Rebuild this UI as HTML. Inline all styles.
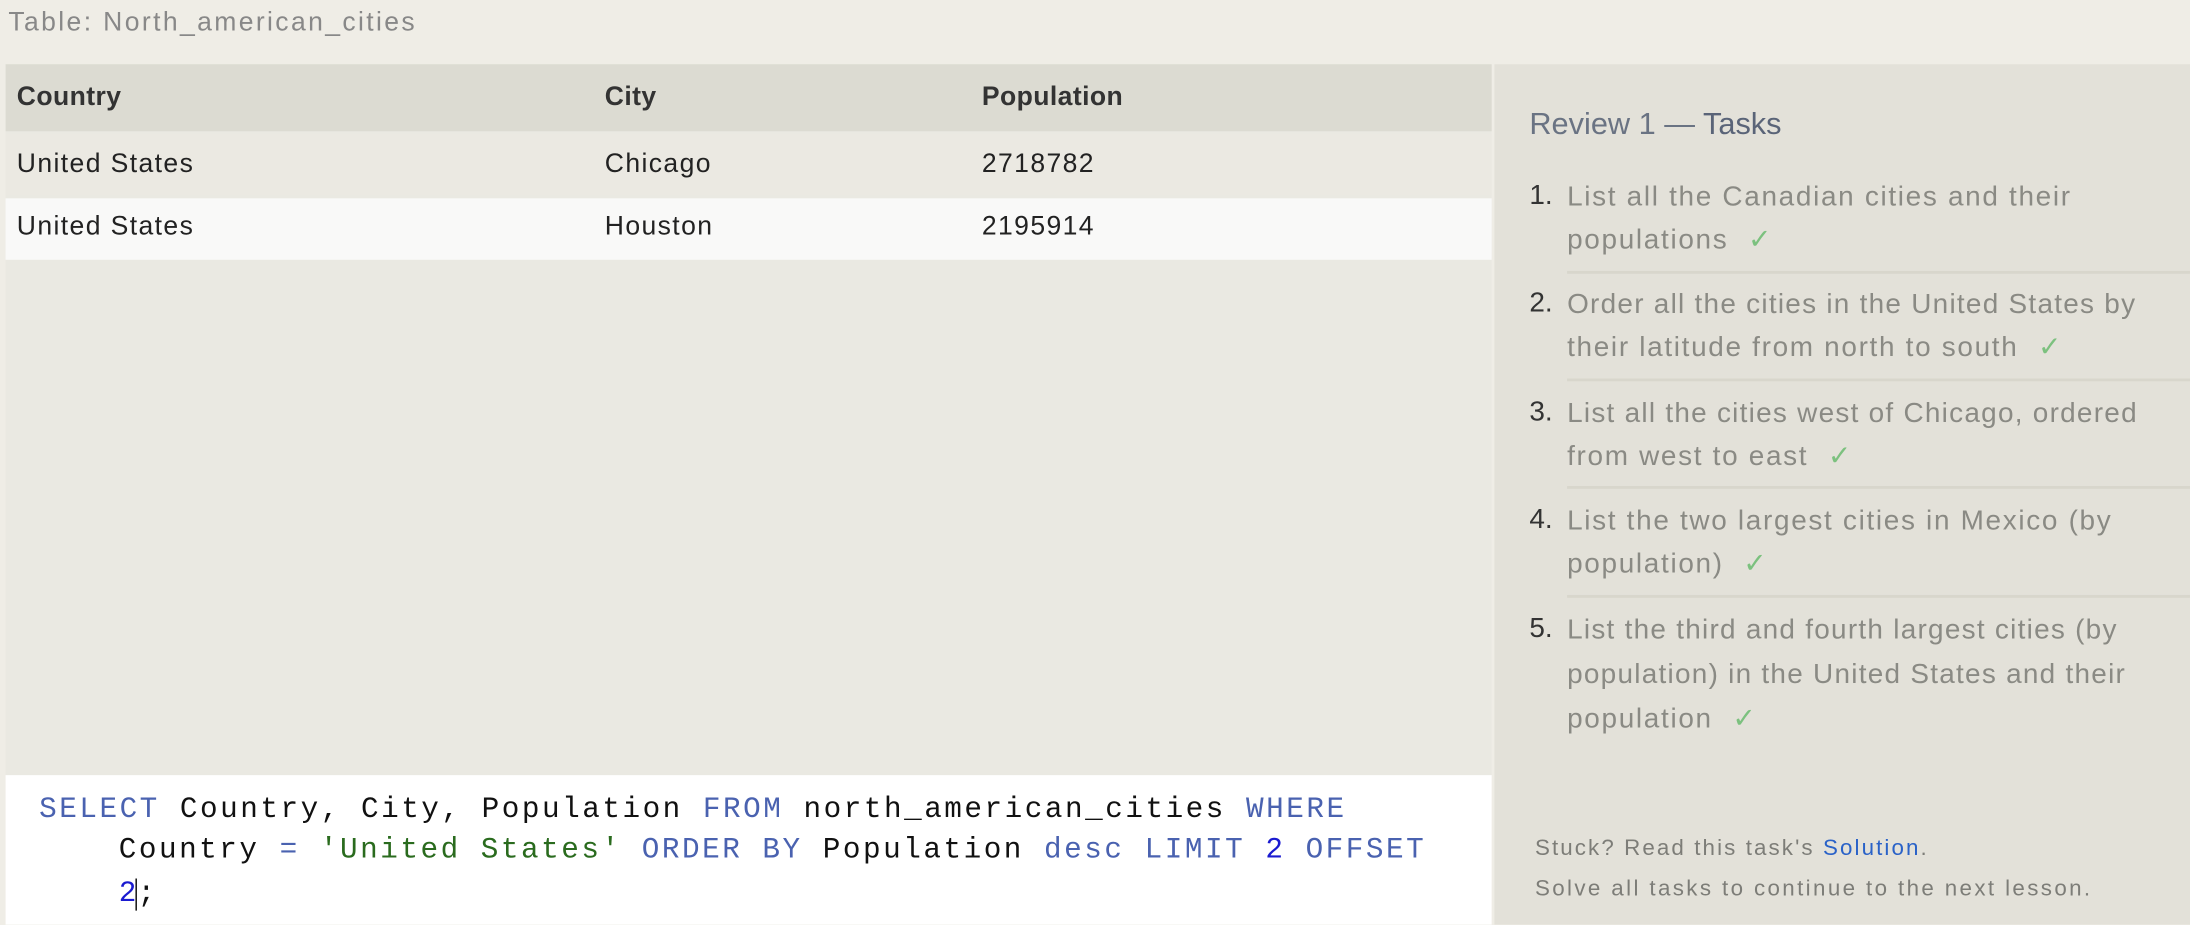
<!DOCTYPE html>
<html><head><meta charset="utf-8"><style>
html,body{margin:0;padding:0;width:2190px;height:924px;overflow:hidden;background:#efede6}
#w{position:absolute;left:0;top:0;width:1568px;height:662px;transform:scale(1.39668);transform-origin:0 0;font-family:"Liberation Sans",sans-serif}
.a{position:absolute;white-space:nowrap}
.t{font-size:20px;color:#8a8a84;line-height:24px;letter-spacing:1.2px}
.n{color:#333;font-size:20px}
.ck{color:#7cc17f;margin-left:14px}
.sep{position:absolute;left:1122px;width:446px;height:2px;background:#d8d6cc}
.code{font-family:"Liberation Mono",monospace;font-size:21px;letter-spacing:1.8px;color:#111;line-height:24px}
.kw{color:#4a62b0}.st{color:#2a6b1e}.nm{color:#1a1ad0}
.td{font-size:19px;color:#222;line-height:24px;letter-spacing:1px}
</style></head><body>
<div id="w">
<div class="a" style="left:6px;top:6px;font-size:19px;color:#888;letter-spacing:1.7px">Table: North_american_cities</div>
<div class="a" style="left:4px;top:46px;width:1064px;height:509px;background:#eae9e2">
 <div class="a" style="left:0;top:0;width:1064px;height:48px;background:#dcdbd2"></div>
 <div class="a td" style="left:8px;top:12px;font-weight:bold;color:#333;letter-spacing:0.3px">Country</div>
 <div class="a td" style="left:429px;top:12px;font-weight:bold;color:#333;letter-spacing:0.3px">City</div>
 <div class="a td" style="left:699px;top:12px;font-weight:bold;color:#333;letter-spacing:0.3px">Population</div>
 <div class="a" style="left:0;top:50px;width:1064px;height:44px;background:#ebe9e2"></div>
 <div class="a td" style="left:8px;top:60px">United States</div>
 <div class="a td" style="left:429px;top:60px">Chicago</div>
 <div class="a td" style="left:699px;top:60px">2718782</div>
 <div class="a" style="left:0;top:96px;width:1064px;height:44px;background:#f9f9f8"></div>
 <div class="a td" style="left:8px;top:105px">United States</div>
 <div class="a td" style="left:429px;top:105px">Houston</div>
 <div class="a td" style="left:699px;top:105px">2195914</div>
</div>
<div class="a" style="left:4px;top:555px;width:1064px;height:107px;background:#fff"></div>
<div class="a code" style="left:28px;top:569px"><span class="kw">SELECT</span> Country, City, Population <span class="kw">FROM</span> north_american_cities <span class="kw">WHERE</span></div>
<div class="a code" style="left:85px;top:598px">Country <span class="kw">=</span> <span class="st">'United States'</span> <span class="kw">ORDER BY</span> Population <span class="kw">desc LIMIT</span> <span class="nm">2</span> <span class="kw">OFFSET</span></div>
<div class="a code" style="left:85px;top:629px"><span class="nm">2</span><span style="border-left:1.5px solid #000;margin-left:-2px">;</span></div>
<div class="a" style="left:1070px;top:46px;width:498px;height:616px;background:#e3e1d9"></div>
<div class="a" style="left:1095px;top:76px;font-size:22px;color:#6a7383">Review 1 — <span style="color:#5a6478">Tasks</span></div>
<div class="a n" style="left:1095px;top:129px">1.</div>
<div class="a t" style="left:1122px;top:129px">List all the Canadian cities and their</div>
<div class="a t" style="left:1122px;top:160px">populations<span class="ck">✓</span></div>
<div class="sep" style="top:194px"></div>
<div class="a n" style="left:1095px;top:206px">2.</div>
<div class="a t" style="left:1122px;top:206px;letter-spacing:0.9px">Order all the cities in the United States by</div>
<div class="a t" style="left:1122px;top:237px">their latitude from north to south<span class="ck">✓</span></div>
<div class="sep" style="top:271px"></div>
<div class="a n" style="left:1095px;top:284px">3.</div>
<div class="a t" style="left:1122px;top:284px;letter-spacing:0.9px">List all the cities west of Chicago, ordered</div>
<div class="a t" style="left:1122px;top:315px">from west to east<span class="ck">✓</span></div>
<div class="sep" style="top:348px"></div>
<div class="a n" style="left:1095px;top:361px">4.</div>
<div class="a t" style="left:1122px;top:361px">List the two largest cities in Mexico (by</div>
<div class="a t" style="left:1122px;top:392px">population)<span class="ck">✓</span></div>
<div class="sep" style="top:426px"></div>
<div class="a n" style="left:1095px;top:439px">5.</div>
<div class="a t" style="left:1122px;top:439px;letter-spacing:0.9px">List the third and fourth largest cities (by</div>
<div class="a t" style="left:1122px;top:471px;letter-spacing:0.9px">population) in the United States and their</div>
<div class="a t" style="left:1122px;top:503px">population<span class="ck">✓</span></div>
<div class="a" style="left:1099px;top:599px;font-size:16px;color:#7d7d78;letter-spacing:1.5px">Stuck? Read this task's <span style="color:#2a62c8">Solution</span>.</div>
<div class="a" style="left:1099px;top:628px;font-size:16px;color:#7d7d78;letter-spacing:1.7px">Solve all tasks to continue to the next lesson.</div>
</div>
</body></html>
